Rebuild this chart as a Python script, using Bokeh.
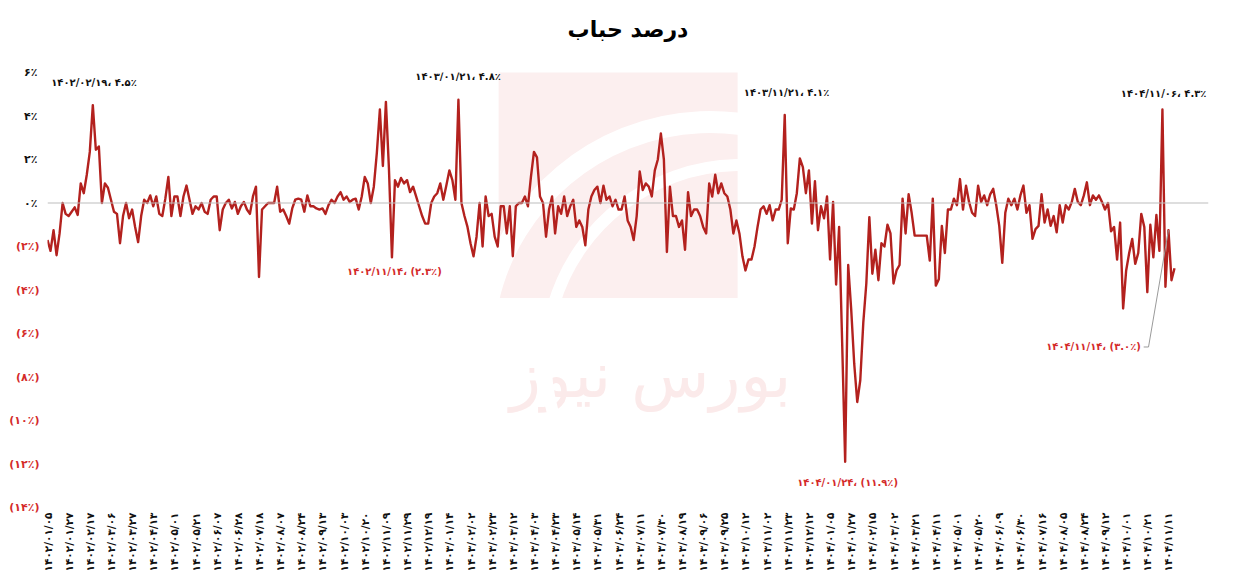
import math
from bokeh.plotting import figure
from bokeh.models import Range1d, FixedTicker, Span, Label, LinearAxis, Title
from bokeh.embed import file_html
from bokeh.resources import INLINE

FONT = "DejaVu Sans"
LINE_RED = "#b3211e"
LABEL_RED = "#d42b2b"

FA_DIGITS = str.maketrans("0123456789", "۰۱۲۳۴۵۶۷۸۹")


def fa(s):
    return s.translate(FA_DIGITS)


title_text = "درصد حباب"
watermark_text = "بورس نیوز"

# category labels shown on the x axis (one every POINTS_PER_TICK samples)
tick_dates = [
    "1402/01/05", "1402/01/27", "1402/02/17", "1402/03/06", "1402/03/27", "1402/04/13",
    "1402/05/01", "1402/05/21", "1402/06/07", "1402/06/28", "1402/07/18", "1402/08/07",
    "1402/08/24", "1402/09/13", "1402/10/03", "1402/10/20", "1402/11/09", "1402/11/29",
    "1402/12/19",
    "1403/01/14", "1403/02/02", "1403/02/23", "1403/03/12", "1403/04/03", "1403/04/23",
    "1403/05/14", "1403/05/31", "1403/06/24", "1403/07/11", "1403/07/30", "1403/08/19",
    "1403/09/06", "1403/09/25", "1403/10/12", "1403/11/02", "1403/11/23", "1403/12/12",
    "1404/01/05", "1404/01/27", "1404/02/15", "1404/03/02", "1404/03/21", "1404/04/11",
    "1404/05/01", "1404/05/20", "1404/06/09", "1404/06/30", "1404/07/16", "1404/08/05",
    "1404/08/24", "1404/09/12", "1404/10/01", "1404/10/21", "1404/11/11",
]
POINTS_PER_TICK = 7

# bubble percentage series
bubble_pct = [
    -1.7, -2.2, -1.25, -2.4, -1.4, 0.0, -0.5,
    -0.6, -0.4, -0.2, -0.55, 0.9, 0.45, 1.3,
    2.35, 4.5, 2.45, 2.6, 0.0, 0.9, 0.7,
    0.15, -0.4, -0.5, -1.85, -0.6, 0.0, -0.7,
    -0.3, -1.1, -1.8, -0.6, 0.15, 0.0, 0.35,
    -0.15, 0.3, -0.5, -0.6, 0.2, 1.2, -0.6,
    0.3, 0.3, -0.6, 0.3, 0.8, 0.15, -0.5,
    -0.15, -0.3, 0.0, -0.4, -0.5, 0.15, 0.3,
    0.3, -1.25, -0.3, 0.0, 0.15, -0.25, 0.05,
    -0.5, -0.15, 0.05, -0.3, -0.5, 0.3, 0.75,
    -3.4, -0.3, -0.15, 0.0, 0.0, 0.0, 0.75,
    -0.4, -0.3, -0.6, -0.95, -0.25, 0.15, 0.2,
    0.15, -0.4, 0.35, -0.15, -0.15, -0.25, -0.3,
    -0.25, -0.5, -0.1, 0.15, 0.0, 0.3, 0.5,
    0.15, 0.3, 0.05, 0.15, 0.2, -0.3, 0.3,
    1.2, 0.9, 0.0, 0.75, 2.3, 4.3, 1.7,
    4.65, 1.6, -2.5, 1.05, 0.75, 1.15, 0.9,
    1.05, 0.5, 0.75, 0.3, -0.15, -0.6, -0.95,
    -0.95, 0.0, 0.3, 0.45, 0.9, 0.15, 0.8,
    1.5, 1.05, 0.15, 4.75, 0.0, -0.6, -1.1,
    -1.85, -2.45, -1.55, 0.0, -2.0, 0.3, -0.6,
    -0.5, -1.55, -2.0, -0.15, -0.15, -1.4, -0.15,
    -2.45, -0.15, 0.0, 0.0, 0.3, -0.15, 1.2,
    2.35, 2.1, 0.3, 0.0, -1.55, -0.3, 0.3,
    -1.4, -0.15, -0.5, 0.3, -0.6, -0.15, 0.15,
    -1.1, -0.8, -1.1, -1.95, -0.3, 0.3, 0.6,
    0.75, 0.0, 0.8, 0.15, 0.3, -0.15, 0.15,
    -0.3, -0.3, 0.3, -0.8, -1.1, -1.7, -0.6,
    1.45, 0.6, 0.9, 0.75, 0.3, 1.5, 2.0,
    3.2, 2.0, -2.25, 0.75, -0.6, -0.6, -1.1,
    -0.8, -2.15, 0.5, -0.6, -0.3, -0.3, -0.6,
    -1.1, -1.4, 0.9, 0.3, 1.3, 0.45, 0.9,
    0.45, 0.3, -0.3, -1.4, -0.8, -1.4, -2.45,
    -3.1, -2.6, -2.6, -2.0, -1.1, -0.3, -0.15,
    -0.5, -0.1, -0.8, -0.3, -0.3, 0.15, 4.05,
    -1.85, -0.25, -0.3, 0.45, 2.05, 1.65, 0.45,
    1.5, -0.95, 1.0, -1.25, -0.15, -0.7, 0.3,
    -2.6, 0.05, -3.75, -1.1, -6.4, -11.9, -2.85,
    -4.9, -7.4, -9.15, -8.15, -5.5, -3.7, -0.65,
    -3.25, -2.15, -3.55, -1.85, -2.0, -1.0, -1.4,
    -3.7, -3.1, -2.85, 0.2, -1.4, 0.4, -0.45,
    -1.5, -1.5, -1.5, -1.5, -1.5, -2.65, 0.2,
    -3.8, -3.5, -1.05, -2.3, -0.3, -0.3, 0.2,
    -0.1, 1.1, -0.3, 0.8, 0.05, -0.45, -0.6,
    0.8, 0.05, 0.35, -0.1, 0.4, 0.65, -0.1,
    -1.05, -2.75, -0.45, 0.2, -0.1, 0.2, -0.3,
    0.35, 0.8, -0.45, -0.1, -1.65, -1.2, -1.05,
    0.4, -0.9, -0.3, -1.05, -0.6, -1.35, -0.1,
    -0.9, -0.1, -0.3, 0.05, 0.65, 0.05, -0.1,
    0.35, 0.95, -0.1, 0.35, 0.15, 0.35, 0.05,
    -0.3, 0.0, -1.3, -1.1, -2.6, -0.9, -4.85,
    -3.1, -2.3, -1.65, -2.8, -2.3, -0.5, -1.1,
    -4.1, -1.0, -2.5, -0.55, -2.2, 4.3, -3.85,
    -1.25, -3.55, -3.0,
]

y_ticks = [6, 4, 2, 0, -2, -4, -6, -8, -10, -12, -14]

# annotated extremes
peak_dates = ["1402/02/19", "1403/01/21", "1403/11/21", "1404/11/06"]
peak_values = ["4.5", "4.8", "4.1", "4.3"]
trough_dates = ["1402/11/14", "1404/01/24", "1404/11/14"]
trough_values = ["2.3", "11.9", "3.0"]

# ---------------------------------------------------------------- figure
n = len(bubble_pct)
xs = list(range(n))
tick_idx = [k * POINTS_PER_TICK for k in range(len(tick_dates))]

p = figure(width=1250, height=584, output_backend="svg", toolbar_location=None,
           x_range=Range1d(0, 384.25), y_range=Range1d(-14, 6),
           min_border_left=47, min_border_right=42, min_border_top=72,
           min_border_bottom=77)
p.background_fill_color = "white"
p.border_fill_color = "white"
p.outline_line_color = None
p.grid.visible = False
p.title = None

# spacer nearest the frame, then the real title above it
p.add_layout(Title(text=" ", standoff=23, text_font_size="1px"), "above")
p.add_layout(Title(text=title_text, align="center", vertical_align="bottom",
                   standoff=10, text_font=FONT, text_font_size="22px",
                   text_font_style="bold", text_color="black"), "above")

# watermark (logo block + name)
p.quad(left=149.3, right=228.4, bottom=-4.37, top=6.8, fill_color="#fcefef",
       line_color=None)
p.arc(x=219.4, y=-6.76, radius=228, radius_units="screen",
      start_angle=math.radians(55), end_angle=math.radians(205),
      line_color="white", line_width=22)
p.arc(x=229.4, y=-7.22, radius=195, radius_units="screen",
      start_angle=math.radians(55), end_angle=math.radians(200),
      line_color="white", line_width=12)
p.add_layout(Label(x=199.6, y=-7.9, text=watermark_text, text_align="center",
                   text_baseline="middle", text_font=FONT, text_font_size="64px",
                   text_color="#fbeaea", level="underlay"))

# zero line
p.add_layout(Span(location=0, dimension="width", line_color="#bdbdbd",
                  line_width=1, level="glyph"))

# series
p.line(xs, bubble_pct, line_color=LINE_RED, line_width=2.4, line_join="round")

# x axis
xa = p.xaxis[0]
xa.ticker = FixedTicker(ticks=tick_idx)
xa.major_label_overrides = {i: fa(d) for i, d in zip(tick_idx, tick_dates)}
xa.major_label_orientation = math.pi / 2
xa.axis_line_color = None
xa.major_tick_line_color = None
xa.minor_tick_line_color = None
xa.major_tick_out = 0
xa.major_tick_in = 0
xa.major_label_standoff = 5
xa.major_label_text_font = FONT
xa.major_label_text_font_size = "10.5px"
xa.major_label_text_font_style = "bold"
xa.major_label_text_color = "#111111"


def style_y(ax, color, standoff):
    ax.ticker = FixedTicker(ticks=y_ticks)
    ax.axis_line_color = None
    ax.major_tick_line_color = None
    ax.minor_tick_line_color = None
    ax.major_tick_out = 0
    ax.major_tick_in = 0
    ax.major_label_standoff = standoff
    ax.major_label_text_font = FONT
    ax.major_label_text_font_size = "11px"
    ax.major_label_text_font_style = "bold"
    ax.major_label_text_color = color


# inner y axis: non-negative ticks in black
ya = p.yaxis[0]
style_y(ya, "#111111", 10)
ya.major_label_overrides = {t: (fa(f"{t}٪") if t >= 0 else "") for t in y_ticks}

# outer y axis: negative ticks in red, pulled back in line with the black ones
ya_neg = LinearAxis()
style_y(ya_neg, LABEL_RED, -18)
ya_neg.major_label_overrides = {t: (fa(f"({-t}٪)") if t < 0 else "") for t in y_ticks}
p.add_layout(ya_neg, "left")

# annotations
peak_pos = [(15.4, 5.52), (135.9, 5.81), (244.6, 5.07), (369.4, 5.05)]
for d, v, (ax, ay) in zip(peak_dates, peak_values, peak_pos):
    p.add_layout(Label(x=ax, y=ay, text=fa(f"{d}، {v}٪"), text_align="center",
                       text_baseline="middle", text_font=FONT,
                       text_font_size="10px", text_font_style="bold",
                       text_color="#111111"))

trough_pos = [(114.8, -3.16), (264.8, -12.87), (346.2, -6.62)]
for d, v, (ax, ay) in zip(trough_dates, trough_values, trough_pos):
    p.add_layout(Label(x=ax, y=ay, text=fa(f"{d}، ({v}٪)"), text_align="center",
                       text_baseline="middle", text_font=FONT,
                       text_font_size="10px", text_font_style="bold",
                       text_color=LABEL_RED))

# leader from the last annotation to the low point at the end of the series
end_i = n - 3
p.line([362.8, 364.4, end_i], [-6.62, -6.62, bubble_pct[end_i]],
       line_color="#9a9a9a", line_width=1)

open("out.html", "w").write(file_html(p, INLINE))
